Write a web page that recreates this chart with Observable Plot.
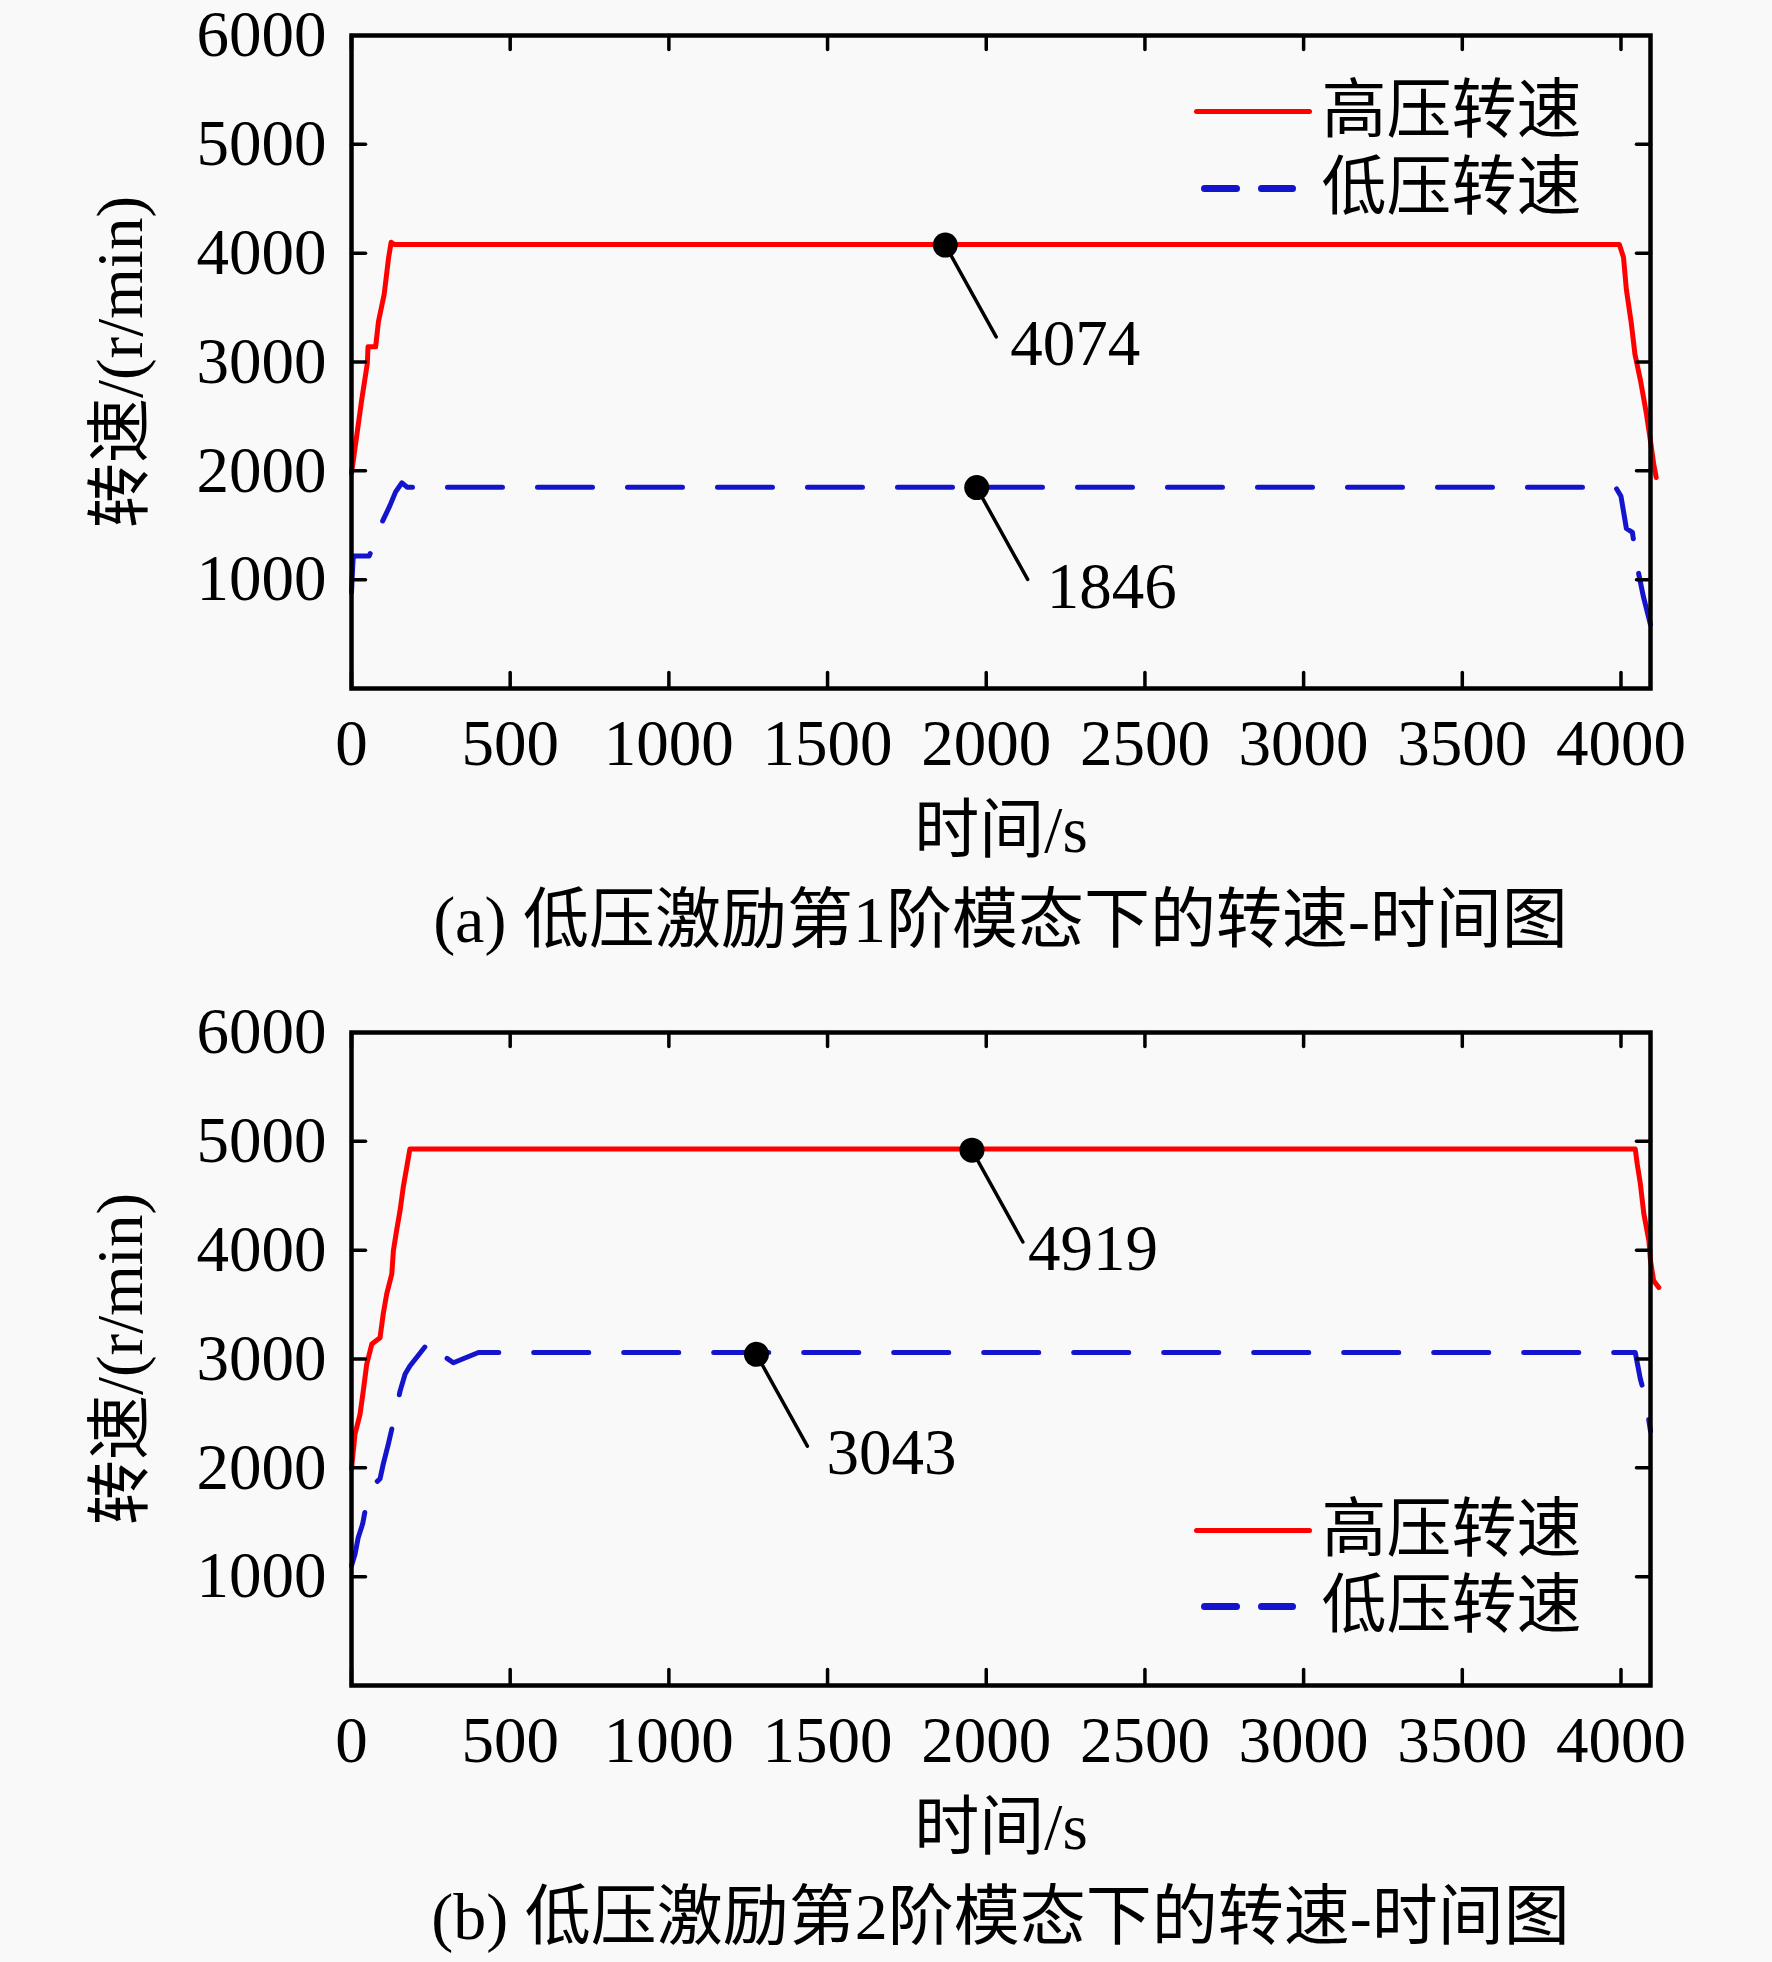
<!DOCTYPE html>
<html>
<head>
<meta charset="utf-8">
<script src="https://cdn.jsdelivr.net/npm/d3@7"></script>
<script src="https://cdn.jsdelivr.net/npm/@observablehq/plot@0.6"></script>
<style>
  html, body { margin: 0; padding: 0; background: #f9f9f9; }
  body { width: 1772px; font-family: 'Liberation Serif', 'Noto Sans CJK SC', serif; color: #000; }
  .panel { position: relative; width: 1772px; height: 997px; }
  .caption { margin-left: 351px; width: 1299px; height: 117px; text-align: center; font-size: 66px; line-height: 80px; padding-top: 0px; box-sizing: border-box; white-space: nowrap; }
</style>
</head>
<body>
<div id="root"></div>
<script>
// ---- Data ----
const seriesNames = ["高压转速", "低压转速"];
const xTicks = [0, 500, 1000, 1500, 2000, 2500, 3000, 3500, 4000];
const yTicks = [1000, 2000, 3000, 4000, 5000];
const yTickLabels = [1000, 2000, 3000, 4000, 5000, 6000];

// Panel (a)
const aHighT = [0, 32, 50, 52, 76, 85, 103, 117, 125, 135, 3995, 4008, 4017, 4032, 4044, 4062, 4080, 4093, 4103, 4111];
const aHighV = [1976, 2650, 2990, 3139, 3139, 3372, 3623, 3961, 4100, 4080, 4080, 3961, 3665, 3367, 3072, 2822, 2527, 2272, 2062, 1939];
const aLowT = [0, 4, 6, 56, 94, 121, 139, 159, 175, 3983, 4000, 4017, 4036, 4053, 4071, 4093];
const aLowV = [882, 1134, 1218, 1218, 1514, 1680, 1807, 1890, 1850, 1850, 1766, 1470, 1434, 1094, 839, 588];
const aAnnT = [1871, 1970];
const aAnnV = [4074, 1846];
const aAnnLabel = ["4074", "1846"];

// Panel (b)
const bHighT = [0, 11, 27, 37, 48, 64, 90, 100, 111, 127, 132, 142, 153, 163, 174, 184, 4045, 4051, 4061, 4072, 4088, 4093, 4103, 4119];
const bHighV = [1990, 2310, 2494, 2705, 2953, 3137, 3196, 3414, 3598, 3782, 3996, 4180, 4364, 4578, 4762, 4930, 4930, 4795, 4611, 4335, 4086, 3902, 3718, 3656];
const bLowT = [0, 11, 21, 35, 56, 90, 100, 116, 140, 153, 169, 184, 242, 253, 274, 295, 321, 400, 4045, 4061, 4077, 4093];
const bLowV = [1100, 1205, 1357, 1483, 1806, 1900, 2034, 2218, 2521, 2705, 2862, 2936, 3150, 3058, 2997, 3018, 2966, 3060, 3060, 2816, 2644, 2337];
const bAnnT = [1955, 1276];
const bAnnV = [4919, 3043];
const bAnnLabel = ["4919", "3043"];

const captions = ["(a) 低压激励第1阶模态下的转速-时间图", "(b) 低压激励第2阶模态下的转速-时间图"];
const yLabel = "转速/(r/min)";
const xLabel = "时间/s";

// ---- Drawing ----
const FONT = "'Liberation Serif', 'Noto Sans CJK SC', serif";
const FS = 65;
const RED = "#ff0000";
const BLUE = "#1414cc";
const lineShape = { draw(ctx, l) { ctx.moveTo(0, 0); ctx.lineTo(0, -l); } };

function zip(T, V) { return T.map((t, i) => ({t, v: V[i]})); }

function panel(highT, highV, lowT, lowV, annT, annV, annLabel, annDx, legendDy) {
  const high = zip(highT, highV);
  const low = zip(lowT, lowV);
  const ann = annT.map((t, i) => ({t, v: annV[i], label: annLabel[i]}));
  const annTexts = ann.map((a, i) => Plot.text([a], { x: "t", y: "v", text: "label", dx: annDx[i], dy: 120, textAnchor: "start", lineAnchor: "bottom", fontSize: FS }));
  const tick = { anchor: "start", shape: lineShape, stroke: "black", strokeWidth: 3.5 };
  return Plot.plot({
    width: 1772,
    height: 880,
    marginLeft: 351,
    marginRight: 122,
    marginTop: 35,
    marginBottom: 192,
    style: { fontFamily: FONT, background: "transparent", color: "#000", overflow: "visible" },
    x: { domain: [0, 4093] },
    y: { domain: [0, 6000] },
    marks: [
      Plot.line(low, { x: "t", y: "v", stroke: BLUE, strokeWidth: 5, strokeDasharray: "55,35" }),
      Plot.line(high, { x: "t", y: "v", stroke: RED, strokeWidth: 5 }),
      Plot.frame({ stroke: "black", strokeWidth: 4.5 }),
      Plot.vector(xTicks, { x: d => d, frameAnchor: "bottom", length: 16, rotate: 0, ...tick }),
      Plot.vector(xTicks, { x: d => d, frameAnchor: "top", length: 14, rotate: 180, ...tick }),
      Plot.vector(yTicks, { y: d => d, frameAnchor: "left", length: 14, rotate: 90, ...tick }),
      Plot.vector(yTicks, { y: d => d, frameAnchor: "right", length: 14, rotate: -90, ...tick }),
      Plot.axisX({ ticks: xTicks, tickSize: 0, tickPadding: 30, fontSize: FS, label: null, tickFormat: d => String(d) }),
      Plot.axisY({ ticks: yTickLabels, tickSize: 0, tickPadding: 25, fontSize: FS, label: null, tickFormat: d => String(d) }),
      Plot.text([xLabel], { text: d => d, frameAnchor: "bottom", dy: 143, textAnchor: "middle", lineAnchor: "middle", fontSize: FS }),
      Plot.text([yLabel], { text: d => d, frameAnchor: "left", dx: -230, rotate: -90, textAnchor: "middle", lineAnchor: "middle", fontSize: FS }),
      Plot.vector(ann, { x: "t", y: "v", length: 105, rotate: 151, anchor: "start", shape: lineShape, stroke: "black", strokeWidth: 3.5 }),
      Plot.dot(ann, { x: "t", y: "v", r: 12.5, fill: "black" }),
      ...annTexts,
      Plot.vector([0], { frameAnchor: "top-left", dx: 845, dy: legendDy[0], length: 113, rotate: 90, anchor: "start", shape: lineShape, stroke: RED, strokeWidth: 5 }),
      Plot.vector([0], { frameAnchor: "top-left", dx: 853, dy: legendDy[1], length: 88, rotate: 90, anchor: "start", shape: lineShape, stroke: BLUE, strokeWidth: 7, strokeDasharray: "32,25" }),
      Plot.text([seriesNames[0]], { text: d => d, frameAnchor: "top-left", dx: 970, dy: legendDy[0], textAnchor: "start", lineAnchor: "middle", fontSize: FS }),
      Plot.text([seriesNames[1]], { text: d => d, frameAnchor: "top-left", dx: 970, dy: legendDy[1], textAnchor: "start", lineAnchor: "middle", fontSize: FS })
    ]
  });
}

function buildPanel(highT, highV, lowT, lowV, annT, annV, annLabel, annDx, legendDy, caption) {
  const div = document.createElement("div");
  div.className = "panel";
  div.appendChild(panel(highT, highV, lowT, lowV, annT, annV, annLabel, annDx, legendDy));
  const cap = document.createElement("div");
  cap.className = "caption";
  cap.textContent = caption;
  div.appendChild(cap);
  return div;
}

const root = document.getElementById("root");
root.appendChild(buildPanel(aHighT, aHighV, aLowT, aLowV, aAnnT, aAnnV, aAnnLabel, [65, 70], [76, 153], captions[0]));
root.appendChild(buildPanel(bHighT, bHighV, bLowT, bLowV, bAnnT, bAnnV, bAnnLabel, [56, 70], [498, 574], captions[1]));
</script>
</body>
</html>
